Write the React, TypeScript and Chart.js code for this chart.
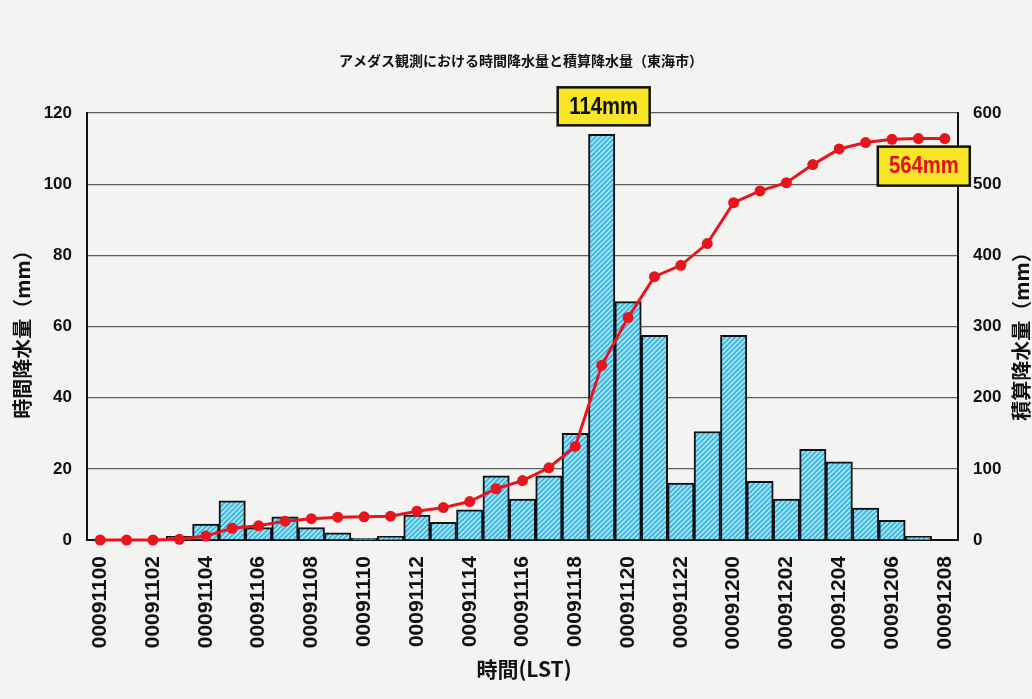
import React, { useEffect, useRef } from "react";
import { Chart, registerables } from "chart.js";

Chart.register(...registerables);

// Observation hours (yymmddhh)
const hours = [
  "00091100", "00091101", "00091102", "00091103", "00091104", "00091105",
  "00091106", "00091107", "00091108", "00091109", "00091110", "00091111",
  "00091112", "00091113", "00091114", "00091115", "00091116", "00091117",
  "00091118", "00091119", "00091120", "00091121", "00091122", "00091123",
  "00091200", "00091201", "00091202", "00091203", "00091204", "00091205",
  "00091206", "00091207", "00091208",
];

// Hourly precipitation (mm)
const hourlyRain = [
  0, 0, 0, 1, 4.5, 11, 3.5, 6.5, 3.5, 2, 0.5, 1,
  7, 5, 8.5, 18, 11.5, 18, 30, 114, 67, 57.5, 16, 30.5,
  57.5, 16.5, 11.5, 25.5, 22, 9, 5.5, 1, 0,
];

// Accumulated precipitation (mm)
const totalRain = [
  0, 0, 0, 1, 5.5, 16.5, 20, 26.5, 30, 32, 32.5, 33.5,
  40.5, 45.5, 54, 72, 83.5, 101.5, 131.5, 245.5, 312.5, 370, 386, 416.5,
  474, 490.5, 502, 527.5, 549.5, 558.5, 563, 564, 564,
];

const leftTicks = [0, 20, 40, 60, 80, 100, 120];
const rightTicks = [0, 100, 200, 300, 400, 500, 600];

const peakIndex = 19;
const peakLabel = "114mm";
const totalLabel = "564mm";

const titleText = "アメダス観測における時間降水量と積算降水量（東海市）";
const leftTitle = "時間降水量（mm）";
const rightTitle = "積算降水量（mm）";
const xTitle = "時間(LST)";

const W = 1032;
const H = 699;
const FONT = '"Liberation Sans", Arial, "Noto Sans CJK JP", sans-serif';
const CJK = '"Noto Sans CJK JP", "Liberation Sans", sans-serif';

// light blue fill with fine diagonal hatching
function hatchPattern(): CanvasPattern | string {
  const c = document.createElement("canvas");
  const s = 5;
  c.width = s;
  c.height = s;
  const g = c.getContext("2d");
  if (!g) return "#46bde4";
  g.fillStyle = "#3dbae3";
  g.fillRect(0, 0, s, s);
  g.strokeStyle = "#c4ecf8";
  g.lineWidth = 1.3;
  g.beginPath();
  g.moveTo(-1, s + 1);
  g.lineTo(s + 1, -1);
  g.moveTo(-1, 1);
  g.lineTo(1, -1);
  g.moveTo(s - 1, s + 1);
  g.lineTo(s + 1, s - 1);
  g.stroke();
  const p = g.createPattern(c, "repeat");
  return p || "#46bde4";
}

function drawBox(
  ctx: CanvasRenderingContext2D,
  cx: number,
  top: number,
  w: number,
  h: number,
  text: string,
  color: string
) {
  ctx.save();
  ctx.fillStyle = "#f7e626";
  ctx.fillRect(cx - w / 2, top, w, h);
  ctx.strokeStyle = "#111";
  ctx.lineWidth = 2.5;
  ctx.strokeRect(cx - w / 2, top, w, h);
  ctx.fillStyle = color;
  ctx.font = `bold 23px ${FONT}`;
  ctx.textAlign = "center";
  ctx.textBaseline = "middle";
  ctx.save();
  ctx.translate(cx, top + h / 2 + 1);
  ctx.scale(0.88, 1);
  ctx.fillText(text, 0, 0);
  ctx.restore();
  ctx.restore();
}

const decorations = {
  id: "decorations",
  beforeDraw(chart: any) {
    const ctx = chart.ctx as CanvasRenderingContext2D;
    ctx.save();
    ctx.fillStyle = "#f3f3f1";
    ctx.fillRect(0, 0, chart.width, chart.height);
    ctx.restore();
  },
  afterDraw(chart: any) {
    const ctx = chart.ctx as CanvasRenderingContext2D;
    const area = chart.chartArea;
    const x = chart.scales.x;
    const y = chart.scales.y;
    const y2 = chart.scales.y2;

    ctx.save();
    ctx.fillStyle = "#111";
    ctx.textAlign = "center";
    ctx.textBaseline = "middle";

    // chart title
    ctx.font = `bold 14px ${CJK}`;
    ctx.fillText(titleText, 521, 61);

    // x-axis title
    ctx.font = `bold 21px ${CJK}`;
    ctx.fillText(xTitle, 524, 669);

    // left axis title
    ctx.save();
    ctx.translate(22, (area.top + area.bottom) / 2 + 3);
    ctx.rotate(-Math.PI / 2);
    ctx.font = `bold 20px ${CJK}`;
    ctx.fillText(leftTitle, 0, 0);
    ctx.restore();

    // right axis title
    ctx.save();
    ctx.translate(1021, (area.top + area.bottom) / 2 + 5);
    ctx.rotate(-Math.PI / 2);
    ctx.font = `bold 20px ${CJK}`;
    ctx.fillText(rightTitle, 0, 0);
    ctx.restore();
    ctx.restore();

    // peak hourly value label
    const px = x.getPixelForValue(peakIndex);
    const py = y.getPixelForValue(hourlyRain[peakIndex]);
    drawBox(ctx, px + 2, py - 47, 92, 38, peakLabel, "#111");

    // final accumulated value label
    const last = totalRain.length - 1;
    const lx = x.getPixelForValue(last);
    const ly = y2.getPixelForValue(totalRain[last]);
    drawBox(ctx, lx - 21, ly + 8, 92, 39, totalLabel, "#e0121c");
  },
};

export default function App() {
  const ref = useRef<HTMLCanvasElement | null>(null);

  useEffect(() => {
    if (!ref.current) return;
    const chart = new Chart(ref.current, {
      data: {
        labels: hours,
        datasets: [
          {
            type: "line",
            label: "積算降水量",
            data: totalRain,
            yAxisID: "y2",
            borderColor: "#e8141e",
            backgroundColor: "#e8141e",
            borderWidth: 3,
            pointRadius: 5.5,
            pointBackgroundColor: "#e8141e",
            pointBorderColor: "#e8141e",
            pointBorderWidth: 0,
            tension: 0,
            clip: false,
            order: 0,
          },
          {
            type: "bar",
            label: "時間降水量",
            data: hourlyRain,
            yAxisID: "y",
            backgroundColor: hatchPattern() as any,
            borderColor: "#111",
            borderWidth: 2,
            barPercentage: 1,
            categoryPercentage: 1,
            order: 1,
          },
        ],
      },
      options: {
        responsive: false,
        animation: false,
        events: [],
        layout: { padding: { top: 113, left: 0, right: 0, bottom: 0 } },
        plugins: {
          legend: { display: false },
          title: { display: false },
          tooltip: { enabled: false },
        },
        scales: {
          x: {
            type: "category",
            offset: true,
            grid: { display: false, drawTicks: false },
            border: { color: "#111", width: 2 },
            ticks: {
              autoSkip: false,
              minRotation: 90,
              maxRotation: 90,
              padding: 16,
              color: "#111",
              font: { family: FONT, size: 21, weight: "bold" },
              callback: (_v: any, i: number) => (i % 2 === 0 ? hours[i] : ""),
            },
            afterFit: (s: any) => {
              s.height = H - 540;
            },
          },
          y: {
            position: "left",
            min: 0,
            max: 120,
            afterBuildTicks: (s: any) => {
              s.ticks = leftTicks.map((v) => ({ value: v }));
            },
            grid: { color: "#5e5e5e", lineWidth: 1.3, drawTicks: false },
            border: { color: "#111", width: 2 },
            ticks: {
              padding: 15,
              color: "#111",
              font: { family: FONT, size: 17, weight: "bold" },
            },
            afterFit: (s: any) => {
              s.width = 87;
            },
          },
          y2: {
            position: "right",
            min: 0,
            max: 600,
            afterBuildTicks: (s: any) => {
              s.ticks = rightTicks.map((v) => ({ value: v }));
            },
            grid: { display: false, drawTicks: false },
            border: { color: "#111", width: 2 },
            ticks: {
              padding: 15,
              color: "#111",
              font: { family: FONT, size: 17, weight: "bold" },
            },
            afterFit: (s: any) => {
              s.width = W - 958;
            },
          },
        },
      },
      plugins: [decorations],
    } as any);
    return () => chart.destroy();
  }, []);

  return (
    <div style={{ position: "absolute", left: 0, top: 0, width: W, height: H }}>
      <canvas ref={ref} width={W} height={H} style={{ display: "block" }} />
    </div>
  );
}
